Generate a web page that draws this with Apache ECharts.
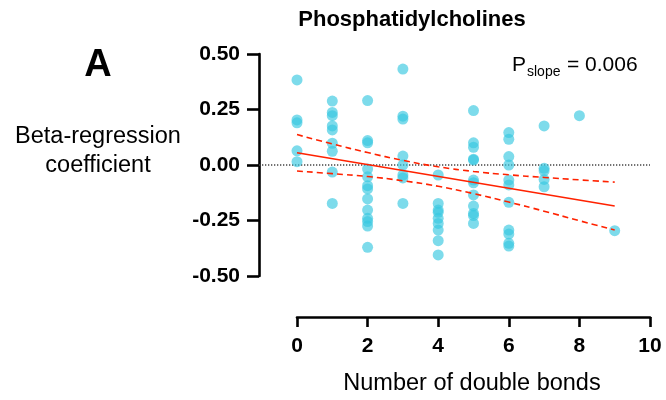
<!DOCTYPE html>
<html><head><meta charset="utf-8">
<script src="https://cdn.jsdelivr.net/npm/echarts@6/dist/echarts.min.js"></script>
<style>html,body{margin:0;padding:0;background:#fff}#c{width:666px;height:400px}</style>
</head><body><div id="c"></div>
<script>
// ---- data ----
const bondCounts = [0, 1, 2, 3, 4, 5, 6, 7, 8, 9];
const betaByBonds = [
  [0.383, 0.203, 0.19, 0.064, 0.015],
  [0.288, 0.237, 0.222, 0.176, 0.158, 0.098, 0.062, -0.032, -0.173],
  [0.29, 0.11, 0.10, -0.018, -0.053, -0.093, -0.108, -0.153, -0.203, -0.24, -0.255, -0.275, -0.371],
  [0.432, 0.22, 0.207, 0.04, 0.0, -0.045, -0.058, -0.173],
  [-0.045, -0.173, -0.203, -0.213, -0.24, -0.263, -0.293, -0.341, -0.405],
  [0.245, 0.10, 0.08, 0.026, 0.022, -0.068, -0.08, -0.135, -0.185, -0.218, -0.228, -0.263],
  [0.146, 0.116, 0.038, 0.0, -0.068, -0.09, -0.168, -0.293, -0.311, -0.353, -0.365],
  [0.176, -0.015, -0.026, -0.065, -0.098],
  [0.222],
  [-0.296]
];
const fitX = [0, 9];
const fitY = [0.055, -0.185];
const ciX = [0, 1, 2, 3, 4, 5, 6, 7, 8, 9];
const ciUpper = [0.137, 0.095, 0.056, 0.021, -0.008, -0.029, -0.044, -0.056, -0.067, -0.077];
const ciLower = [-0.027, -0.039, -0.052, -0.071, -0.096, -0.129, -0.167, -0.208, -0.251, -0.293];
const xTicks = [0, 2, 4, 6, 8, 10];
const yTicks = [-0.5, -0.25, 0, 0.25, 0.5];
const titleText = 'Phosphatidylcholines';
const panelLetter = 'A';
const pValue = '0.006';
const yName = ['Beta-regression', 'coefficient'];
const xName = 'Number of double bonds';

// ---- chart ----
const FONT = '"Liberation Sans", Arial, Helvetica, sans-serif';
const chart = echarts.init(document.getElementById('c'), null, {renderer: 'canvas'});
const points = [];
bondCounts.forEach((b, i) => betaByBonds[i].forEach(v => points.push([b, v])));
const labelFont = {color: '#000', fontSize: 21, fontWeight: 'bold', fontFamily: FONT};
chart.setOption({
  animation: false,
  backgroundColor: '#fff',
  grid: [
    {left: 297, right: 16, top: 54, bottom: 124},
    {left: 259, right: 16, top: 54, bottom: 124}
  ],
  xAxis: [
    {
      gridIndex: 0, type: 'value', min: xTicks[0], max: xTicks[xTicks.length - 1], interval: 2, offset: 41,
      axisLine: {onZero: false, lineStyle: {color: '#000', width: 2.6}},
      splitLine: {show: false},
      axisTick: {length: 10, lineStyle: {color: '#000', width: 2.6}},
      axisLabel: Object.assign({margin: 19}, labelFont)
    },
    {gridIndex: 1, type: 'value', min: 0, max: 1, show: false}
  ],
  yAxis: [
    {
      gridIndex: 0, type: 'value', min: yTicks[0], max: yTicks[yTicks.length - 1], interval: 0.25, offset: 38,
      axisLine: {onZero: false, lineStyle: {color: '#000', width: 2.6}},
      splitLine: {show: false},
      axisTick: {length: 12, lineStyle: {color: '#000', width: 2.6}},
      axisLabel: Object.assign({margin: 19, formatter: v => v.toFixed(2)}, labelFont)
    },
    {gridIndex: 1, type: 'value', min: yTicks[0], max: yTicks[yTicks.length - 1], show: false}
  ],
  series: [
    {type: 'line', xAxisIndex: 1, yAxisIndex: 1, data: [[0, 0], [1, 0]], symbol: 'none', silent: true, z: 1,
      lineStyle: {color: '#444', width: 1.3, type: [1.3, 1.7]}},
    {type: 'scatter', data: points, symbolSize: 11, z: 2,
      itemStyle: {color: '#38c8e0', opacity: 0.65}},
    {type: 'line', data: fitX.map((x, i) => [x, fitY[i]]), symbol: 'none', z: 3,
      lineStyle: {color: '#ff2200', width: 1.6}},
    {type: 'line', data: ciX.map((x, i) => [x, ciUpper[i]]), symbol: 'none', smooth: true, z: 3,
      lineStyle: {color: '#ff2200', width: 1.6, type: [6, 4]}},
    {type: 'line', data: ciX.map((x, i) => [x, ciLower[i]]), symbol: 'none', smooth: true, z: 3,
      lineStyle: {color: '#ff2200', width: 1.6, type: [6, 4]}}
  ],
  graphic: [
    {type: 'text', x: 412, y: 20, style: {text: titleText, font: 'bold 22px ' + FONT, fill: '#000', textAlign: 'center', textVerticalAlign: 'middle'}},
    {type: 'text', x: 98, y: 66, style: {text: panelLetter, font: 'bold 38px ' + FONT, fill: '#000', textAlign: 'center', textVerticalAlign: 'middle'}},
    {type: 'text', x: 526, y: 65.5, style: {text: 'P', font: '21px ' + FONT, fill: '#000', textAlign: 'right', textVerticalAlign: 'middle'}},
    {type: 'text', x: 527, y: 72, style: {text: 'slope', font: '14px ' + FONT, fill: '#000', textAlign: 'left', textVerticalAlign: 'middle'}},
    {type: 'text', x: 567, y: 65.5, style: {text: '= ' + pValue, font: '21px ' + FONT, fill: '#000', textAlign: 'left', textVerticalAlign: 'middle'}},
    {type: 'text', x: 98, y: 137, style: {text: yName[0], font: '23.5px ' + FONT, fill: '#000', textAlign: 'center', textVerticalAlign: 'middle'}},
    {type: 'text', x: 98, y: 166, style: {text: yName[1], font: '23.5px ' + FONT, fill: '#000', textAlign: 'center', textVerticalAlign: 'middle'}},
    {type: 'text', x: 472, y: 384, style: {text: xName, font: '23.5px ' + FONT, fill: '#000', textAlign: 'center', textVerticalAlign: 'middle'}}
  ]
});
</script></body></html>
